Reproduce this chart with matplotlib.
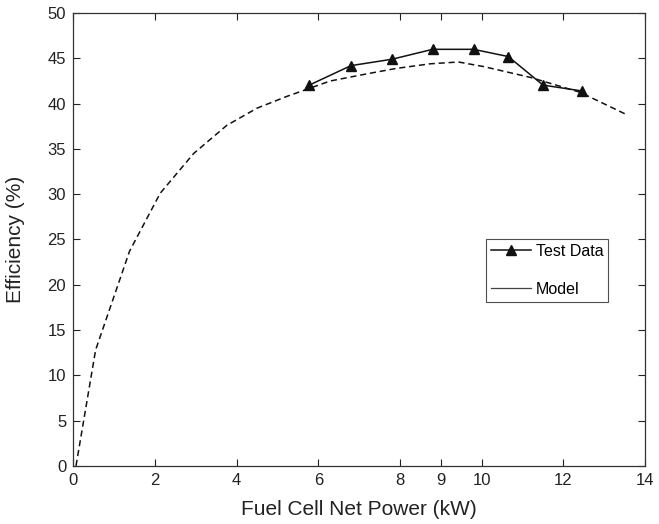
import matplotlib
matplotlib.use("Agg")
import matplotlib.pyplot as plt
from matplotlib.lines import Line2D

plt.rcParams['font.family'] = ['Liberation Sans', 'DejaVu Sans']

# Test data
test_power = [5.78, 6.8, 7.8, 8.8, 9.8, 10.65, 11.5, 12.45]
test_eff = [42.05, 44.2, 44.9, 46.0, 46.0, 45.2, 42.05, 41.4]

# Model curve
model_power = [0.07, 0.55, 1.38, 2.13, 2.95, 3.76, 4.5, 5.23, 6.29, 7.2, 7.92, 8.74, 9.43, 10.04, 11.19, 12.41, 13.54]
model_eff = [0.0, 12.8, 23.7, 30.1, 34.5, 37.6, 39.5, 40.8, 42.5, 43.3, 43.9, 44.4, 44.6, 44.1, 42.9, 41.25, 38.8]

xticks = [0, 2, 4, 6, 8, 9, 10, 12, 14]
yticks = [0, 5, 10, 15, 20, 25, 30, 35, 40, 45, 50]

fig = plt.figure(figsize=(6.59, 5.24), dpi=100)
ax = fig.add_axes([0.111, 0.111, 0.868, 0.864])

ax.plot(model_power, model_eff, color='#111111', linestyle=(0, (4, 2.5)), linewidth=1.1)
ax.plot(test_power, test_eff, color='#111111', linewidth=1.1, marker='^', markersize=7.5)

ax.set_xlim(0, 14)
ax.set_ylim(0, 50)
ax.set_xticks(xticks)
ax.set_yticks(yticks)
ax.tick_params(direction='in', top=True, right=True, labelsize=12, length=5, width=0.8,
               colors='#222222', pad=5)
for s in ax.spines.values():
    s.set_linewidth(0.9)
    s.set_color('#333333')

ax.set_xlabel('Fuel Cell Net Power (kW)', fontsize=15, color='#222222')
ax.set_ylabel('Efficiency (%)', fontsize=15, color='#222222')
ax.xaxis.label.set_verticalalignment('center')
ax.yaxis.label.set_verticalalignment('center')
ax.xaxis.set_label_coords(0.5, -0.097)
ax.yaxis.set_label_coords(-0.101, 0.5)

handles = [Line2D([], [], color='#111111', linewidth=1.1, marker='^', markersize=7.5),
           Line2D([], [], color='#444444', linewidth=0.9)]
leg = ax.legend(handles, ['Test Data', 'Model'], loc='upper left', bbox_to_anchor=(0.722, 0.501),
                fontsize=11.5, frameon=True, fancybox=False, edgecolor='#222222',
                labelspacing=1.45, handlelength=2.5, handletextpad=0.3, borderpad=0.3,
                borderaxespad=0)
leg.get_frame().set_linewidth(0.8)

fig.savefig('out.png', dpi=100)
